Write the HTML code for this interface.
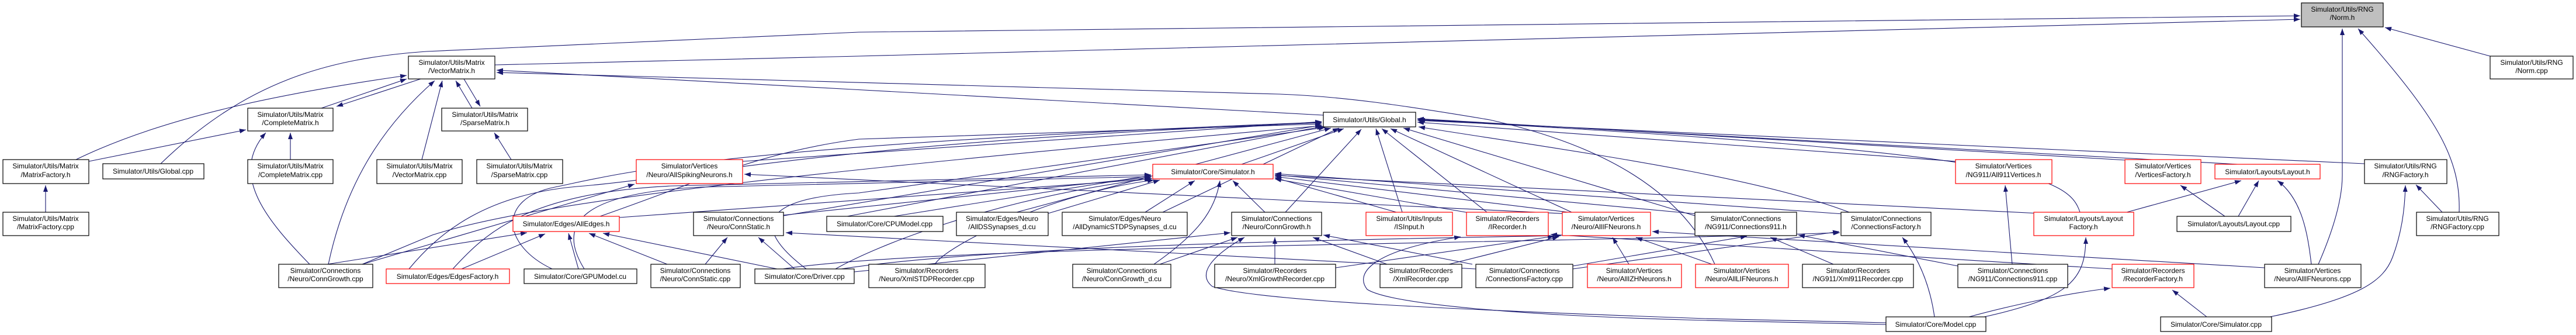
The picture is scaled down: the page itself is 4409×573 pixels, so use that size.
<!DOCTYPE html>
<html><head><meta charset="utf-8"><style>
html,body{margin:0;padding:0;background:#fff;}
svg{display:block}
text{font-family:"Liberation Sans",Arial,sans-serif;font-size:12px;fill:#000;text-anchor:middle}
.e{fill:none;stroke:#191970;stroke-width:1.1}
.b{fill:#fff;stroke:#000;stroke-width:1.2}
.r{fill:#fff;stroke:#ff0000;stroke-width:1.2}
.g{fill:#bfbfbf;stroke:#000;stroke-width:1.2}
</style></head><body>
<svg width="4409" height="573" viewBox="0 0 4409 573" xmlns="http://www.w3.org/2000/svg">
<defs><marker id="a" markerWidth="11" markerHeight="8" refX="11" refY="4" orient="auto" markerUnits="userSpaceOnUse"><path d="M0,0 L11,4 L0,8 z" fill="#191970"/></marker></defs>
<g class="e" marker-end="url(#a)">
<path d="M78,363 L78,317"/>
<path d="M847,111 L1470,96 L3937,33"/>
<path d="M275,280 C420,140 560,100 730,88 L1470,55 L3937,27"/>
<path d="M4262,96 L4082,47"/>
<path d="M3968,452 C3995,390 4009,340 4009,300 L4009,49"/>
<path d="M4209,363 C4212,270 4170,200 4036,49"/>
<path d="M562,452 C590,320 650,220 744,138"/>
<path d="M130,273 C280,200 480,160 696,129"/>
<path d="M152,276 L421,222"/>
<path d="M550,185 L696,135"/>
<path d="M720,135 L576,182"/>
<path d="M497,273 L497,227"/>
<path d="M530,452 C460,380 390,300 455,227"/>
<path d="M722,273 L757,138"/>
<path d="M808,185 L780,138"/>
<path d="M794,135 L822,182"/>
<path d="M875,273 L846,227"/>
<path d="M2265,197 L1460,153 L850,120"/>
<path d="M2935,452 C2880,330 2750,250 2550,205 C2400,180 2300,165 2190,161 L850,124"/>
<path d="M4180,363 L4135,316"/>
<path d="M3885,542 C4040,510 4080,480 4095,440 C4110,400 4116,360 4117,317"/>
<path d="M4047,280 L2426,206"/>
<path d="M3831,370 L3866,309"/>
<path d="M3808,370 L3732,317"/>
<path d="M3956,452 C3950,400 3940,340 3898,309"/>
<path d="M3640,363 L3836,309"/>
<path d="M3830,281 L2426,204"/>
<path d="M3640,274 L2426,203"/>
<path d="M3777,542 L3718,496"/>
<path d="M3370,542 C3450,520 3550,500 3612,493"/>
<path d="M3396,542 C3540,510 3570,480 3570,406"/>
<path d="M3311,542 C3305,500 3290,450 3256,406"/>
<path d="M2692,460 L3148,396"/>
<path d="M3444,452 L3432,317"/>
<path d="M3351,455 L3078,402"/>
<path d="M3138,452 L3030,406"/>
<path d="M2692,455 L2990,404"/>
<path d="M3615,460 L2654,401"/>
<path d="M3228,552 L2920,545 C2500,530 2150,515 2075,490 C2050,470 2070,440 2130,406"/>
<path d="M3228,555 L2920,548 C2600,540 2380,520 2340,495 C2320,470 2340,430 2500,405"/>
<path d="M1530,370 L1970,300"/>
<path d="M1794,365 L1985,308"/>
<path d="M1960,363 L2045,309"/>
<path d="M2165,363 L2110,309"/>
<path d="M1975,452 C2050,400 2080,360 2088,309"/>
<path d="M2182,452 L2182,406"/>
<path d="M1985,452 L2118,406"/>
<path d="M2200,363 L2330,221"/>
<path d="M2125,281 L2300,220"/>
<path d="M1060,372 L1970,306"/>
<path d="M1341,368 L1970,303"/>
<path d="M1430,460 C1500,420 1700,340 1972,305"/>
<path d="M1000,460 C950,380 1000,330 1200,320 L1970,302"/>
<path d="M775,460 C830,400 900,330 1150,318 L1970,299"/>
<path d="M1600,452 C1620,420 1800,330 1975,308"/>
<path d="M2390,363 L2182,304"/>
<path d="M2520,365 L2182,306"/>
<path d="M2700,365 L2182,302"/>
<path d="M2905,366 L2182,299"/>
<path d="M3155,366 L2182,297"/>
<path d="M3490,365 L2182,300"/>
<path d="M1271,276 L2262,208"/>
<path d="M1027,370 C1200,310 1300,260 1470,238 L2262,212"/>
<path d="M1341,369 L2262,214"/>
<path d="M700,460 C750,400 830,330 1000,318 C1200,300 1470,240 2262,210"/>
<path d="M945,460 C860,420 850,340 950,320 C1050,300 1200,250 2262,209"/>
<path d="M620,452 L740,402 C900,350 1300,300 2262,215"/>
<path d="M1380,460 C1300,400 1280,340 1470,330 L2268,218"/>
<path d="M1450,370 L2265,216"/>
<path d="M1740,363 L2278,219"/>
<path d="M1990,363 L2292,219"/>
<path d="M2400,363 L2355,220"/>
<path d="M2545,363 L2365,220"/>
<path d="M2690,363 L2380,220"/>
<path d="M2901,369 L2402,219"/>
<path d="M3165,363 C3000,300 2700,260 2428,217"/>
<path d="M3347,276 L2426,209"/>
<path d="M3560,363 C3540,300 3450,260 2428,205"/>
<path d="M2788,452 L2760,406"/>
<path d="M2930,452 L2800,406"/>
<path d="M3876,458 L2828,396"/>
<path d="M2286,458 L2660,404"/>
<path d="M2480,452 L2668,405"/>
<path d="M2374,452 L2247,406"/>
<path d="M2520,452 L2265,402"/>
<path d="M1207,452 L1245,406"/>
<path d="M1360,460 L1298,406"/>
<path d="M2526,460 L1345,398"/>
<path d="M1462,465 L2106,398"/>
<path d="M2690,366 L1274,298"/>
<path d="M620,452 L1086,315"/>
<path d="M560,452 L902,398"/>
<path d="M790,460 L933,400"/>
<path d="M990,460 L973,399"/>
<path d="M1142,452 L1008,399"/>
<path d="M1330,460 L1032,399"/>
<path d="M1340,460 C1600,420 2500,420 3149,398"/>
<path d="M1440,460 C1700,420 2300,410 2672,403"/>
</g>
<g>
<rect class="g" x="3939" y="5" width="140" height="41"/><text x="4009" y="20">Simulator/Utils/RNG</text><text x="4009" y="34">/Norm.h</text>
<rect class="b" x="4262" y="96" width="142" height="39"/><text x="4333" y="111">Simulator/Utils/RNG</text><text x="4333" y="125">/Norm.cpp</text>
<rect class="b" x="699" y="96" width="148" height="39"/><text x="773" y="111">Simulator/Utils/Matrix</text><text x="773" y="125">/VectorMatrix.h</text>
<rect class="b" x="424" y="185" width="146" height="39"/><text x="497" y="200">Simulator/Utils/Matrix</text><text x="497" y="214">/CompleteMatrix.h</text>
<rect class="b" x="756" y="185" width="147" height="39"/><text x="830" y="200">Simulator/Utils/Matrix</text><text x="830" y="214">/SparseMatrix.h</text>
<rect class="b" x="2265" y="192" width="158" height="25"/><text x="2344" y="209">Simulator/Utils/Global.h</text>
<rect class="r" x="1973" y="281" width="206" height="25"/><text x="2076" y="298">Simulator/Core/Simulator.h</text>
<rect class="r" x="3791" y="281" width="180" height="25"/><text x="3881" y="298">Simulator/Layouts/Layout.h</text>
<rect class="b" x="5" y="273" width="147" height="41"/><text x="78" y="288">Simulator/Utils/Matrix</text><text x="78" y="303">/MatrixFactory.h</text>
<rect class="b" x="176" y="280" width="173" height="26"/><text x="262" y="297">Simulator/Utils/Global.cpp</text>
<rect class="b" x="424" y="273" width="146" height="41"/><text x="497" y="288">Simulator/Utils/Matrix</text><text x="497" y="303">/CompleteMatrix.cpp</text>
<rect class="b" x="645" y="273" width="146" height="41"/><text x="718" y="288">Simulator/Utils/Matrix</text><text x="718" y="303">/VectorMatrix.cpp</text>
<rect class="b" x="816" y="273" width="147" height="41"/><text x="889" y="288">Simulator/Utils/Matrix</text><text x="889" y="303">/SparseMatrix.cpp</text>
<rect class="r" x="1089" y="273" width="182" height="41"/><text x="1180" y="288">Simulator/Vertices</text><text x="1180" y="303">/Neuro/AllSpikingNeurons.h</text>
<rect class="r" x="3347" y="273" width="165" height="41"/><text x="3429" y="288">Simulator/Vertices</text><text x="3429" y="303">/NG911/All911Vertices.h</text>
<rect class="r" x="3637" y="273" width="130" height="41"/><text x="3702" y="288">Simulator/Vertices</text><text x="3702" y="303">/VerticesFactory.h</text>
<rect class="b" x="4047" y="273" width="141" height="41"/><text x="4117" y="288">Simulator/Utils/RNG</text><text x="4117" y="303">/RNGFactory.h</text>
<rect class="b" x="5" y="363" width="147" height="40"/><text x="78" y="378">Simulator/Utils/Matrix</text><text x="78" y="392">/MatrixFactory.cpp</text>
<rect class="r" x="878" y="370" width="182" height="26"/><text x="969" y="387">Simulator/Edges/AllEdges.h</text>
<rect class="b" x="1415" y="370" width="199" height="26"/><text x="1514" y="387">Simulator/Core/CPUModel.cpp</text>
<rect class="b" x="1637" y="363" width="157" height="40"/><text x="1715" y="378">Simulator/Edges/Neuro</text><text x="1715" y="392">/AllDSSynapses_d.cu</text>
<rect class="b" x="1818" y="363" width="214" height="40"/><text x="1925" y="378">Simulator/Edges/Neuro</text><text x="1925" y="392">/AllDynamicSTDPSynapses_d.cu</text>
<rect class="b" x="2108" y="363" width="154" height="40"/><text x="2185" y="378">Simulator/Connections</text><text x="2185" y="392">/Neuro/ConnGrowth.h</text>
<rect class="b" x="1187" y="363" width="154" height="40"/><text x="1264" y="378">Simulator/Connections</text><text x="1264" y="392">/Neuro/ConnStatic.h</text>
<rect class="r" x="2338" y="363" width="148" height="40"/><text x="2412" y="378">Simulator/Utils/Inputs</text><text x="2412" y="392">/ISInput.h</text>
<rect class="r" x="2510" y="363" width="140" height="40"/><text x="2580" y="378">Simulator/Recorders</text><text x="2580" y="392">/IRecorder.h</text>
<rect class="r" x="2674" y="363" width="151" height="40"/><text x="2749" y="378">Simulator/Vertices</text><text x="2749" y="392">/Neuro/AllIFNeurons.h</text>
<rect class="b" x="2901" y="363" width="174" height="40"/><text x="2988" y="378">Simulator/Connections</text><text x="2988" y="392">/NG911/Connections911.h</text>
<rect class="b" x="3151" y="363" width="154" height="40"/><text x="3228" y="378">Simulator/Connections</text><text x="3228" y="392">/ConnectionsFactory.h</text>
<rect class="r" x="3481" y="363" width="171" height="40"/><text x="3566" y="378">Simulator/Layouts/Layout</text><text x="3566" y="392">Factory.h</text>
<rect class="b" x="3726" y="370" width="195" height="26"/><text x="3823" y="387">Simulator/Layouts/Layout.cpp</text>
<rect class="b" x="4136" y="363" width="141" height="40"/><text x="4206" y="378">Simulator/Utils/RNG</text><text x="4206" y="392">/RNGFactory.cpp</text>
<rect class="b" x="477" y="452" width="161" height="40"/><text x="557" y="467">Simulator/Connections</text><text x="557" y="481">/Neuro/ConnGrowth.cpp</text>
<rect class="r" x="661" y="460" width="211" height="25"/><text x="766" y="477">Simulator/Edges/EdgesFactory.h</text>
<rect class="b" x="897" y="460" width="193" height="25"/><text x="993" y="477">Simulator/Core/GPUModel.cu</text>
<rect class="b" x="1114" y="452" width="153" height="40"/><text x="1190" y="467">Simulator/Connections</text><text x="1190" y="481">/Neuro/ConnStatic.cpp</text>
<rect class="b" x="1292" y="460" width="170" height="25"/><text x="1377" y="477">Simulator/Core/Driver.cpp</text>
<rect class="b" x="1487" y="452" width="199" height="40"/><text x="1586" y="467">Simulator/Recorders</text><text x="1586" y="481">/Neuro/XmlSTDPRecorder.cpp</text>
<rect class="b" x="1836" y="452" width="168" height="40"/><text x="1920" y="467">Simulator/Connections</text><text x="1920" y="481">/Neuro/ConnGrowth_d.cu</text>
<rect class="b" x="2079" y="452" width="207" height="40"/><text x="2182" y="467">Simulator/Recorders</text><text x="2182" y="481">/Neuro/XmlGrowthRecorder.cpp</text>
<rect class="b" x="2362" y="452" width="140" height="40"/><text x="2432" y="467">Simulator/Recorders</text><text x="2432" y="481">/XmlRecorder.cpp</text>
<rect class="b" x="2526" y="452" width="166" height="40"/><text x="2609" y="467">Simulator/Connections</text><text x="2609" y="481">/ConnectionsFactory.cpp</text>
<rect class="r" x="2717" y="452" width="161" height="40"/><text x="2797" y="467">Simulator/Vertices</text><text x="2797" y="481">/Neuro/AllIZHNeurons.h</text>
<rect class="r" x="2902" y="452" width="159" height="40"/><text x="2981" y="467">Simulator/Vertices</text><text x="2981" y="481">/Neuro/AllLIFNeurons.h</text>
<rect class="b" x="3085" y="452" width="190" height="40"/><text x="3180" y="467">Simulator/Recorders</text><text x="3180" y="481">/NG911/Xml911Recorder.cpp</text>
<rect class="b" x="3351" y="452" width="188" height="40"/><text x="3445" y="467">Simulator/Connections</text><text x="3445" y="481">/NG911/Connections911.cpp</text>
<rect class="r" x="3615" y="452" width="140" height="40"/><text x="3685" y="467">Simulator/Recorders</text><text x="3685" y="481">/RecorderFactory.h</text>
<rect class="b" x="3876" y="452" width="165" height="40"/><text x="3958" y="467">Simulator/Vertices</text><text x="3958" y="481">/Neuro/AllIFNeurons.cpp</text>
<rect class="b" x="3228" y="542" width="171" height="25"/><text x="3313" y="559">Simulator/Core/Model.cpp</text>
<rect class="b" x="3698" y="542" width="190" height="25"/><text x="3793" y="559">Simulator/Core/Simulator.cpp</text>
</g>
</svg>
</body></html>
